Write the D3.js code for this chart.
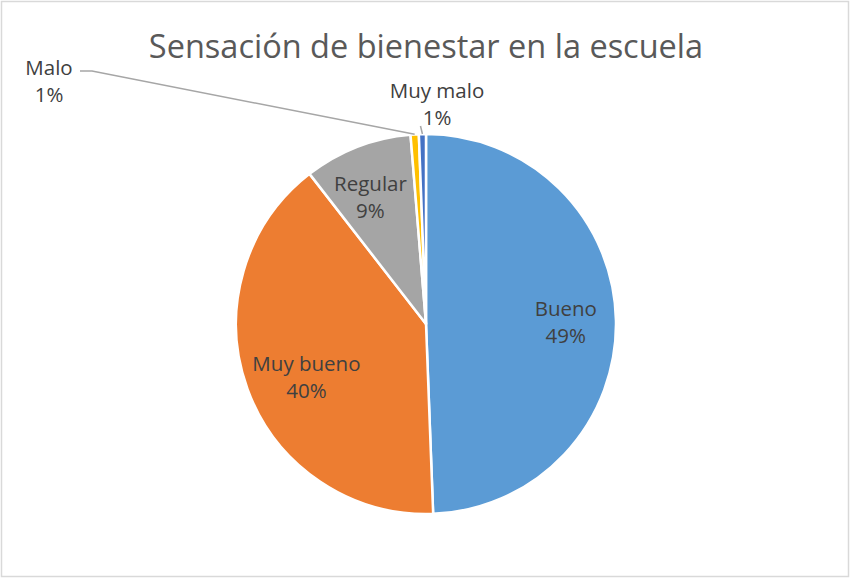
<!DOCTYPE html>
<html>
<head>
<meta charset="utf-8">
<script src="https://cdn.jsdelivr.net/npm/d3@7"></script>
<style>
  body { margin: 0; background: #fff; }
  text { font-family: "Open Sans", "Noto Sans", sans-serif; }
</style>
</head>
<body>
<div id="container"></div>
<script>
/* CONSTANTS AND GLOBALS */
const width = 850;
const height = 578;

// data
const categories = ["Bueno", "Muy bueno", "Regular", "Malo", "Muy malo"];
const shares = [49.4, 40.1, 9.2, 0.7, 0.6];
const colors = ["#5B9BD5", "#ED7D31", "#A5A5A5", "#FFC000", "#4472C4"];

const cx = 426, cy = 324, radius = 190;

// small nudges so inside labels sit like Excel's "best fit"
const labelNudge = {
  "Bueno": [3, 0],
  "Muy bueno": [9, 5],
  "Regular": [-6, 0]
};

// outside labels (Malo, Muy malo) sit away from the pie
const outsideLabels = {
  "Malo": { x: 49, y: 75, lineFrom: [80, 71], bend: [92, 71] },
  "Muy malo": { x: 437, y: 98, lineFrom: [420.5, 126], bend: null }
};

const data = categories.map((c, i) => ({ name: c, value: shares[i], color: colors[i] }));

const svg = d3.select("#container")
  .append("svg")
  .attr("width", width)
  .attr("height", height);

svg.append("rect")
  .attr("x", 1.5).attr("y", 1.5)
  .attr("width", width - 3).attr("height", height - 3)
  .attr("fill", "#fff")
  .attr("stroke", "#d9d9d9")
  .attr("stroke-width", 1.5);

// Chart title
svg.append("text")
  .attr("x", cx)
  .attr("y", 58)
  .attr("text-anchor", "middle")
  .style("font-size", "32.5px")
  .style("fill", "#595959")
  .text("Sensación de bienestar en la escuela");

const pie = d3.pie()
  .sort(null)
  .value(d => d.value);

const arcs = pie(data);

const arc = d3.arc()
  .innerRadius(0)
  .outerRadius(radius);

const labelArc = d3.arc()
  .innerRadius(radius * 0.72)
  .outerRadius(radius * 0.72);

const edgeArc = d3.arc()
  .innerRadius(radius)
  .outerRadius(radius);

const g = svg.append("g")
  .attr("transform", `translate(${cx},${cy})`);

g.selectAll("path.slice")
  .data(arcs)
  .join("path")
  .attr("class", "slice")
  .attr("d", arc)
  .attr("fill", d => d.data.color)
  .attr("stroke", "#fff")
  .attr("stroke-width", 2.5)
  .attr("stroke-linejoin", "round");

// inside labels
const inside = arcs.filter(d => !outsideLabels[d.data.name]);
const insideG = g.selectAll("g.label")
  .data(inside)
  .join("g")
  .attr("class", "label")
  .attr("transform", d => {
    const c = labelArc.centroid(d);
    const n = labelNudge[d.data.name] || [0, 0];
    return `translate(${c[0] + n[0]},${c[1] + n[1]})`;
  });

insideG.append("text")
  .attr("text-anchor", "middle")
  .attr("y", -5)
  .style("font-size", "20.5px")
  .style("fill", "#404040")
  .text(d => d.data.name);

insideG.append("text")
  .attr("text-anchor", "middle")
  .attr("y", 22)
  .style("font-size", "20.5px")
  .style("fill", "#404040")
  .text(d => Math.round(d.data.value) + "%");

// outside labels with leader lines
const outside = arcs.filter(d => outsideLabels[d.data.name]);
outside.forEach(d => {
  const L = outsideLabels[d.data.name];
  const end = edgeArc.centroid(d);
  const pts = [L.lineFrom];
  if (L.bend) pts.push(L.bend);
  pts.push([end[0] + cx, end[1] + cy]);
  svg.append("path")
    .attr("d", d3.line()(pts))
    .attr("fill", "none")
    .attr("stroke", "#a6a6a6")
    .attr("stroke-width", 1.5);
  svg.append("text")
    .attr("x", L.x).attr("y", L.y)
    .attr("text-anchor", "middle")
    .style("font-size", "20.5px")
    .style("fill", "#404040")
    .text(d.data.name);
  svg.append("text")
    .attr("x", L.x).attr("y", L.y + 27)
    .attr("text-anchor", "middle")
    .style("font-size", "20.5px")
    .style("fill", "#404040")
    .text(Math.round(d.data.value) + "%");
});
</script>
</body>
</html>
